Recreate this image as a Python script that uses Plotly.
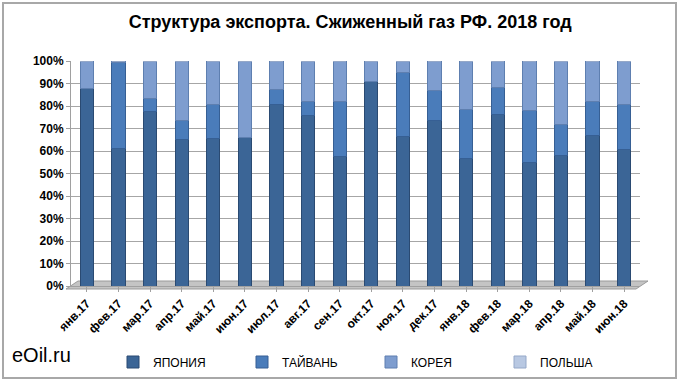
import plotly.graph_objects as go

months = ["янв.17", "фев.17", "мар.17", "апр.17", "май.17", "июн.17", "июл.17", "авг.17", "сен.17",
          "окт.17", "ноя.17", "дек.17", "янв.18", "фев.18", "мар.18", "апр.18", "май.18", "июн.18"]
japan = [88, 61, 77.7, 65, 65.5, 65.8, 80.8, 75.9, 57.4, 90.7, 66.3, 73.7, 56.7, 76.3, 55, 58, 66.9, 60.7]
taiwan = [0, 38.5, 5.6, 8.7, 15.1, 0, 6.5, 5.9, 24.4, 0, 28.4, 13.3, 21.8, 11.9, 22.8, 13.9, 15.2, 20.1]
korea = [12, 0.5, 16.7, 26.3, 19.4, 34.2, 12.7, 18.2, 18.2, 9.3, 5.3, 13, 21.5, 11.8, 22.2, 28.1, 17.9, 19.2]
poland = [0] * 18

series_names = ["ЯПОНИЯ", "ТАЙВАНЬ", "КОРЕЯ", "ПОЛЬША"]
series_vals = [japan, taiwan, korea, poland]
series_colors = ["#3b6596", "#4a7cba", "#7e9dcf", "#b8c8e2"]
edge_colors = ["#2a4a72", "#365f94", "#5e7fb0", "#95a8c8"]

y_ticks = list(range(0, 101, 10))
y_labels = [f"{v}%" for v in y_ticks]

L, R, T, B = 71, 40, 61, 98
PW, PH = 680 - L - R, 384 - T - B


def px_x(p):
    return (p - L) / PW


def px_y(p):
    return (384 - B - p) / PH


fig = go.Figure()
for name, vals, col, ec in zip(series_names, series_vals, series_colors, edge_colors):
    fig.add_trace(go.Bar(
        x=months, y=vals, name=name,
        marker=dict(color=col, line=dict(color=ec, width=1)),
    ))

floor_path = "M {} {} L {} {} L {} {} L {} {} Z".format(
    px_x(66), px_y(289), px_x(636), px_y(289), px_x(648), px_y(281), px_x(78), px_y(281))

fig.update_layout(
    width=680, height=384,
    barmode="stack", bargap=0.58,
    paper_bgcolor="white", plot_bgcolor="white",
    margin=dict(l=L, r=R, t=T, b=B, autoexpand=False),
    font=dict(family="Liberation Sans, Arial, sans-serif", color="#000000"),
    title=dict(
        text="<b>Структура экспорта. Сжиженный газ РФ. 2018 год</b>",
        x=0.515, xanchor="center", y=0.943, yanchor="middle",
        font=dict(family="Liberation Sans, Arial, sans-serif", size=18, color="#000"),
    ),
    showlegend=True,
    legend=dict(
        orientation="h", x=px_x(113), xanchor="left", y=px_y(362), yanchor="middle",
        font=dict(family="Liberation Sans, Arial, sans-serif", size=12, color="#000"),
        entrywidth=84, entrywidthmode="pixels", itemwidth=30,
        traceorder="normal", bgcolor="rgba(0,0,0,0)",
    ),
    shapes=[
        dict(type="rect", xref="paper", yref="paper", x0=px_x(3), x1=px_x(676), y0=px_y(378), y1=px_y(3),
             line=dict(color="#a8a8a8", width=2), fillcolor="rgba(0,0,0,0)", layer="below"),
        dict(type="path", xref="paper", yref="paper", path=floor_path,
             line=dict(color="#9a9a9a", width=1), fillcolor="#c4c4c4", layer="below"),
    ],
    annotations=[
        dict(text="eOil.ru", xref="paper", yref="paper", x=px_x(10), y=px_y(355), xanchor="left", yanchor="middle",
             showarrow=False, font=dict(family="Liberation Sans, Arial, sans-serif", size=20, color="#000")),
    ],
)
fig.update_xaxes(
    tickangle=-45, tickfont=dict(size=12, family="Liberation Sans, Arial, sans-serif", weight="bold"),
    showline=True, linecolor="#a0a0a0", ticks="outside", ticklen=5, tickcolor="#a0a0a0",
    showgrid=False, automargin=False,
)
fig.update_yaxes(
    range=[0, 100], tickvals=y_ticks, ticktext=y_labels,
    tickfont=dict(size=12, family="Liberation Sans, Arial, sans-serif", weight="bold"),
    showgrid=True, gridcolor="#a6a6a6", gridwidth=1,
    showline=True, linecolor="#a0a0a0", ticks="outside", ticklen=4, tickcolor="#a0a0a0",
    zeroline=False, automargin=False,
)

fig.write_html("out.html", config={"displayModeBar": False},
               post_script="document.body.style.margin='0';document.body.style.overflow='hidden';")
